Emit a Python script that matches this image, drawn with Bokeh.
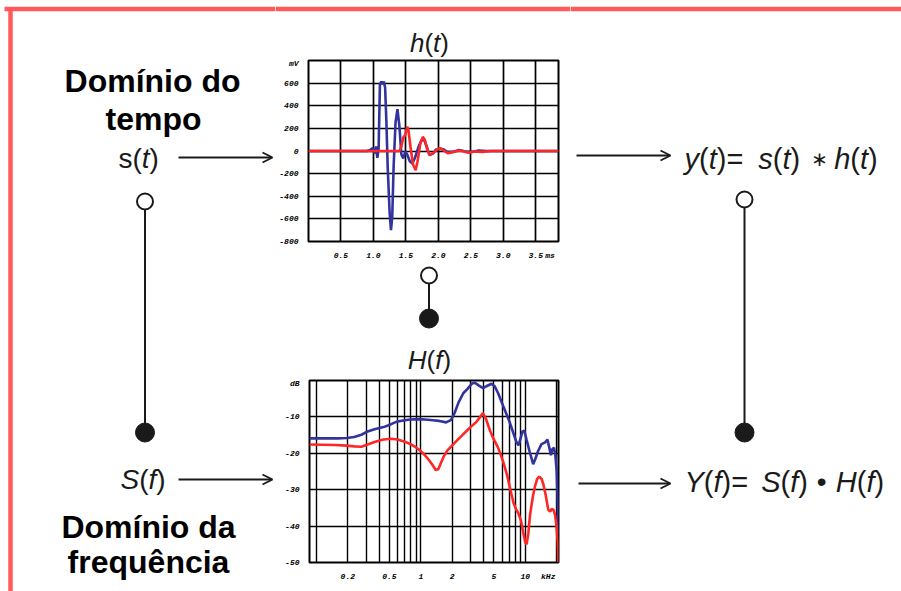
from bokeh.plotting import figure
from bokeh.layouts import row, column
from bokeh.models import Range1d, Arrow, OpenHead, FixedTicker
from bokeh.core.properties import value
from bokeh.embed import file_html
from bokeh.resources import INLINE

# ---------------- data ----------------
# impulse response h(t): time in ms, amplitude in mV
ht_blue_ms = [0.0, 0.5, 0.9, 0.95, 0.99, 1.02, 1.04, 1.06, 1.08, 1.10, 1.12, 1.14, 1.16, 1.18,
              1.20, 1.22, 1.25, 1.27, 1.29, 1.31, 1.34, 1.37, 1.40, 1.43, 1.46, 1.49, 1.52,
              1.56, 1.60, 1.64, 1.69, 1.74, 1.78, 1.82, 1.86, 1.91, 1.96, 2.02, 2.08, 2.14,
              2.22, 2.32, 2.42, 2.52, 2.62, 2.75, 3.85]
ht_blue_mv = [0, 0, 0, 10, 25, -20, 40, -60, 20, 590, 615, 590, 615, 560,
              250, -150, -550, -700, -580, -150, 250, 370, 220, -30, -65, -5, -30,
              -90, -110, -60, 30, 95, 100, 40, -35, -25, 10, 20, 15, -10,
              -8, 8, -5, -8, 4, 0, 0]
ht_red_ms = [0.0, 1.40, 1.43, 1.46, 1.49, 1.52, 1.54, 1.57, 1.61, 1.65, 1.68, 1.72, 1.76,
             1.79, 1.83, 1.87, 1.93, 1.98, 2.03, 2.09, 2.15, 2.22, 2.32, 2.40, 2.46, 2.55,
             2.68, 2.80, 3.85]
ht_red_mv = [0, 0, 40, 120, 140, 215, 180, 40, -120, -170, -90, 60, 125,
             100, 10, -35, -15, 15, 25, 0, -20, -10, 5, -5, -15, -5,
             -8, 0, 0]
ht_x_ticks = [0.5, 1.0, 1.5, 2.0, 2.5, 3.0, 3.5]
ht_x_labels = ["0.5", "1.0", "1.5", "2.0", "2.5", "3.0", "3.5"]
ht_x_unit = (3.72, "ms")
ht_y_ticks = [-800, -600, -400, -200, 0, 200, 400, 600]
ht_y_labels = ["-800", "-600", "-400", "-200", "0", "200", "400", "600"]
ht_y_unit = (770, "mV")

# frequency response H(f): frequency in kHz, level in dB
hf_blue_khz = [0.086, 0.12, 0.16, 0.196, 0.23, 0.27, 0.31, 0.36, 0.44, 0.52, 0.59, 0.7, 0.8,
               0.95, 1.1, 1.3, 1.5, 1.75, 1.95, 2.1, 2.3, 2.55, 2.8, 3.1, 3.3, 3.6, 3.95,
               4.3, 4.75, 5.1, 5.5, 6.2, 7.1, 7.7, 8.2, 8.6, 9.0, 9.4, 9.8, 10.3, 11.0,
               11.9, 12.5, 13.2, 14.3, 15.5, 16.3, 17.0, 17.6, 18.2, 18.8, 19.4, 20.0,
               20.5, 20.8]
hf_blue_db = [-15.9, -15.9, -15.9, -15.8, -15.5, -14.9, -14.0, -13.4, -12.8, -12.0, -11.3,
              -10.9, -10.7, -10.6, -10.7, -10.9, -11.1, -11.5, -10.8, -9.0, -6.0, -3.5,
              -2.3, -0.8, -0.6, -1.4, -2.1, -1.5, -0.9, -1.6, -3.5, -7.3, -11.5, -14.5,
              -16.8, -17.8, -16.0, -14.0, -13.8, -16.3, -19.5, -23.0, -21.5, -19.5, -17.5,
              -17.0, -16.2, -18.5, -20.5, -18.8, -18.5, -20.5, -25.0, -34.0, -42.0]
hf_red_khz = [0.086, 0.15, 0.196, 0.23, 0.27, 0.31, 0.36, 0.44, 0.52, 0.6, 0.7, 0.8, 0.9,
              1.0, 1.1, 1.2, 1.3, 1.39, 1.47, 1.55, 1.65, 1.8, 2.0, 2.2, 2.5, 2.8, 3.1,
              3.4, 3.7, 3.92, 4.2, 4.6, 5.0, 5.5, 6.1, 6.7, 7.2, 7.7, 8.2, 8.6, 9.1, 9.6,
              10.0, 10.3, 10.7, 11.1, 11.8, 12.4, 13.0, 13.6, 14.3, 14.9, 15.7, 16.6,
              17.3, 17.9, 18.6, 19.3, 19.9, 20.4, 20.8]
hf_red_db = [-17.6, -17.7, -17.9, -18.1, -18.2, -17.6, -16.9, -16.2, -16.0, -16.2, -16.8,
             -17.5, -18.4, -19.4, -20.6, -21.9, -23.3, -24.6, -24.4, -22.8, -21.0, -19.2,
             -17.8, -16.6, -15.0, -13.6, -12.4, -11.4, -10.0, -9.0, -10.5, -13.8, -16.2,
             -18.5, -22.0, -26.0, -30.0, -33.5, -35.5, -36.5, -38.5, -42.0, -44.5, -45.0,
             -42.0, -37.0, -32.0, -29.0, -27.0, -26.4, -27.0, -28.5, -31.5, -35.5, -36.0,
             -35.3, -35.5, -37.0, -40.0, -44.0, -50.0]
hf_x_ticks = [0.2, 0.5, 1, 2, 5, 10]
hf_x_labels = ["0.2", "0.5", "1", "2", "5", "10"]
hf_x_unit = (16.6, "kHz")
hf_x_grid = [0.1, 0.2, 0.3, 0.4, 0.5, 0.6, 0.7, 0.8, 0.9,
             1, 2, 3, 4, 5, 6, 7, 8, 9, 10, 20]
hf_y_ticks = [-50, -40, -30, -20, -10]
hf_y_labels = ["-50", "-40", "-30", "-20", "-10"]
hf_y_unit = (-0.9, "dB")

# ---------------- style ----------------
BLUE = "#33339f"
RED = "#ff2626"
FRAME_RED = "#ff5a5a"
INK = "#1a1a1a"
FONT = value("Liberation Sans")
LIFT = 9  # text glyphs sit this many px below the requested baseline; compensate

# advance widths (em) of Liberation Sans for the glyphs used in formulas
ADV = {"s": .5, "(": .333, ")": .333, "t": .278, "y": .5, "=": .584, "h": .556,
       "S": .667, "f": .278, "H": .722, "Y": .667, " ": .278}


def canvas(w, h, x0, x1, y_top, y_bottom):
    p = figure(width=w, height=h, x_range=Range1d(x0, x1), y_range=Range1d(y_bottom, y_top),
               output_backend="svg", toolbar_location=None,
               x_axis_location=None, y_axis_location=None, frame_align=False,
               min_border_left=0, min_border_right=0, min_border_top=0, min_border_bottom=0)
    p.grid.visible = False
    p.outline_line_color = None
    p.background_fill_color = "white"
    p.border_fill_color = "white"
    return p


def rich(p, x, y, parts, size, color=INK):
    """Draw a run of text pieces with mixed styles, left to right from x on baseline y.
    A number in parts is an extra gap in pixels; extra items give font, advance and size."""
    for part in parts:
        if isinstance(part, (int, float)):
            x += part
            continue
        txt, style = part[0], part[1]
        font = part[2] if len(part) > 2 else FONT
        fsize = part[4] if len(part) > 4 else size
        p.text(x=[x], y=[y - LIFT], text=[txt], text_font=font, text_font_style=style,
               text_font_size=f"{fsize}px", text_color=color,
               text_align="left", text_baseline="alphabetic")
        x += part[3] if len(part) > 3 else sum(ADV.get(c, .5) for c in txt) * size


def run_width(parts, size):
    w = 0
    for part in parts:
        if isinstance(part, (int, float)):
            w += part
        elif len(part) > 3:
            w += part[3]
        else:
            w += sum(ADV.get(c, .5) for c in part[0]) * size
    return w


def heading(p, x, y, txt):
    p.text(x=[x], y=[y - LIFT], text=[txt], text_font=FONT, text_font_style="bold",
           text_font_size="32px", text_color="black",
           text_align="center", text_baseline="alphabetic")


def arrow(p, x0, x1, y):
    p.add_layout(Arrow(x_start=x0, y_start=y, x_end=x1, y_end=y,
                       line_color=INK, line_width=1.8,
                       end=OpenHead(size=10, line_color=INK, line_width=1.8)))


def stem(p, x, y_open, y_filled):
    p.segment(x0=[x], y0=[y_open], x1=[x], y1=[y_filled], line_color=INK, line_width=2)
    p.scatter(x=[x], y=[y_open], size=16, marker="circle", fill_color="white",
              line_color=INK, line_width=2)
    p.scatter(x=[x], y=[y_filled], size=19, marker="circle", fill_color=INK,
              line_color=INK, line_width=1)


def style_chart(p):
    p.outline_line_color = "black"
    p.outline_line_width = 2
    p.background_fill_color = "white"
    p.border_fill_color = "white"
    for ax in (p.xaxis[0], p.yaxis[0]):
        ax.axis_line_color = None
        ax.major_tick_line_color = None
        ax.minor_tick_line_color = None
        ax.major_label_text_font = "Liberation Mono"
        ax.major_label_text_font_style = "bold italic"
        ax.major_label_text_font_size = "8px"
        ax.major_label_text_color = "black"
    p.xaxis[0].major_label_standoff = 3
    p.yaxis[0].major_label_standoff = 4
    p.grid.grid_line_color = "black"
    p.grid.grid_line_width = 1.7
    p.grid.grid_line_alpha = 1


# ---------------- left column: time / frequency domain inputs ----------------
left = canvas(275, 591, 0, 275, 0, 591)
left.line([4, 275], [8.5, 8.5], line_color=FRAME_RED, line_width=4.5)
left.line([10, 10], [6.5, 591], line_color=FRAME_RED, line_width=4.5)
heading(left, 152, 89, "Domínio do")
heading(left, 153, 127, "tempo")
heading(left, 148, 535, "Domínio da")
heading(left, 148, 570, "frequência")
rich(left, 118, 167, [("s", "normal"), ("(", "normal"), ("t", "italic"), (")", "normal")], 28)
rich(left, 120, 488, [("S", "italic"), ("(", "normal"), ("f", "italic"), (")", "normal")], 28)
arrow(left, 178, 272, 157)
arrow(left, 178, 272, 479)
stem(left, 144.5, 201, 432)

# ---------------- middle column: h(t) over H(f) ----------------
title_h = [("h", "italic"), ("(", "normal"), ("t", "italic"), (")", "normal")]
title_H = [("H", "italic"), ("(", "normal"), ("f", "italic"), (")", "normal")]

strip = canvas(295, 58, 275, 570, 0, 58)
strip.line([275, 570], [8.5, 8.5], line_color=FRAME_RED, line_width=4.5)
rich(strip, 429 - run_width(title_h, 26) / 2, 51, title_h, 26)

ht = figure(width=295, height=204, x_range=Range1d(0, 3.85), y_range=Range1d(-800, 800),
            output_backend="svg", toolbar_location=None, frame_align=False,
            min_border_left=33, min_border_right=12, min_border_top=2, min_border_bottom=20)
style_chart(ht)
ht.xaxis[0].ticker = FixedTicker(ticks=ht_x_ticks + [ht_x_unit[0]])
ht.xaxis[0].major_label_overrides = {**dict(zip(ht_x_ticks, ht_x_labels)), ht_x_unit[0]: ht_x_unit[1]}
ht.yaxis[0].ticker = FixedTicker(ticks=ht_y_ticks + [ht_y_unit[0]])
ht.yaxis[0].major_label_overrides = {**dict(zip(ht_y_ticks, ht_y_labels)), ht_y_unit[0]: ht_y_unit[1]}
ht.xgrid[0].ticker = FixedTicker(ticks=ht_x_ticks)
ht.ygrid[0].ticker = FixedTicker(ticks=ht_y_ticks[1:])
ht.line(ht_blue_ms, ht_blue_mv, line_color=BLUE, line_width=2.6)
ht.line(ht_red_ms, ht_red_mv, line_color=RED, line_width=2.6)

link = canvas(295, 116, 275, 570, 262, 378)
stem(link, 428.5, 275, 318)
rich(link, 429 - run_width(title_H, 26) / 2, 368, title_H, 26)

hf = figure(width=295, height=213, x_axis_type="log", x_range=Range1d(0.086, 20.8),
            y_range=Range1d(-50, 0), output_backend="svg", toolbar_location=None,
            frame_align=False,
            min_border_left=34, min_border_right=12, min_border_top=2, min_border_bottom=29)
style_chart(hf)
hf.xaxis[0].ticker = FixedTicker(ticks=hf_x_ticks + [hf_x_unit[0]])
hf.xaxis[0].major_label_overrides = {**dict(zip(hf_x_ticks, hf_x_labels)), hf_x_unit[0]: hf_x_unit[1]}
hf.yaxis[0].ticker = FixedTicker(ticks=hf_y_ticks + [hf_y_unit[0]])
hf.yaxis[0].major_label_overrides = {**dict(zip(hf_y_ticks, hf_y_labels)), hf_y_unit[0]: hf_y_unit[1]}
hf.xgrid[0].ticker = FixedTicker(ticks=hf_x_grid)
hf.ygrid[0].ticker = FixedTicker(ticks=hf_y_ticks[1:])
hf.xgrid[0].grid_line_width = 1.4
hf.line(hf_blue_khz, hf_blue_db, line_color=BLUE, line_width=2.6)
hf.line(hf_red_khz, hf_red_db, line_color=RED, line_width=2.6)

middle = column(strip, ht, link, hf, spacing=0)

# ---------------- right column: outputs ----------------
right = canvas(331, 591, 570, 901, 0, 591)
right.line([570, 901], [8.5, 8.5], line_color=FRAME_RED, line_width=4.5)
arrow(right, 576, 670, 155)
arrow(right, 578, 670, 483)
# pieces: (text, style, font, advance px, font size px)
formula_y = [("y", "italic"), ("(", "normal"), ("t", "italic"), (")", "normal"), ("=", "normal"),
             15,
             ("s", "italic"), ("(", "normal"), ("t", "italic"), (")", "normal"), 11,
             ("\u2217", "normal", value("DejaVu Sans"), 12, 20), 11,
             ("h", "italic"), ("(", "normal"), ("t", "italic"), (")", "normal")]
formula_Y = [("Y", "italic"), ("(", "normal"), ("f", "italic"), (")", "normal"), ("=", "normal"),
             13,
             ("S", "italic"), ("(", "normal"), ("f", "italic"), (")", "normal"), 9,
             ("\u2022", "normal", FONT, 10, 28), 9,
             ("H", "italic"), ("(", "normal"), ("f", "italic"), (")", "normal")]
rich(right, 684, 167, formula_y, 29)
rich(right, 684, 490, formula_Y, 29)
stem(right, 744, 199, 432)

layout = row(left, middle, right, spacing=0)

open("out.html", "w").write(file_html(layout, INLINE, title="Domínio do tempo e da frequência"))
